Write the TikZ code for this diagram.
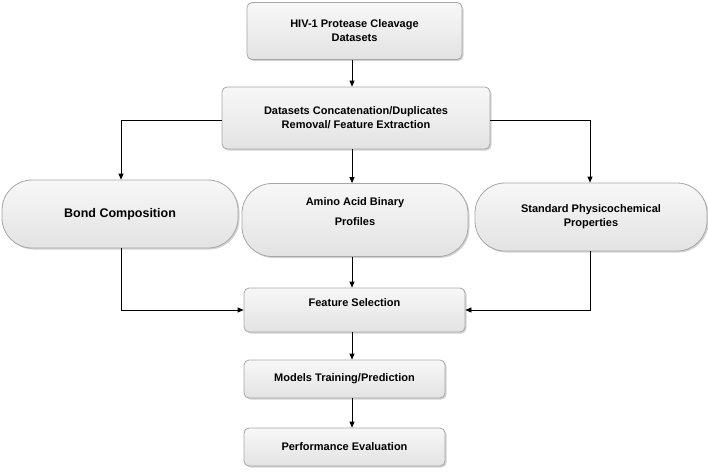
\documentclass[tikz,border=0pt]{standalone}
\usepackage{fontspec}
\setmainfont{Liberation Sans}
\usetikzlibrary{arrows.meta,shadows}
\begin{document}
\begin{tikzpicture}[x=1pt,y=-1pt,
  box/.style={draw=gray!70,line width=0.8pt,top color=gray!6,bottom color=gray!22,rounded corners=5pt,
    drop shadow={shadow xshift=1.5pt,shadow yshift=-1.5pt,opacity=0.35},
    font=\bfseries\fontsize{11}{14}\selectfont,align=center,inner sep=0pt},
  pill/.style={box,rounded corners=30pt},
  arr/.style={-{Triangle[length=6pt,width=5pt]},line width=0.8pt}]
\useasboundingbox (0,0) rectangle (708,474);
\node[box,minimum width=215,minimum height=57] (hiv) at (354.5,31) {HIV-1 Protease Cleavage\\Datasets};
\node[box,minimum width=268,minimum height=62] (cat) at (356,118) {Datasets Concatenation/Duplicates\\Removal/ Feature Extraction};
\node[pill,minimum width=236,minimum height=68] (bond) at (120,214) {\fontsize{12.5}{14}\selectfont Bond Composition};
\node[pill,minimum width=226,minimum height=73] (amino) at (355,220) {Amino Acid Binary\\[6pt]Profiles\\[2pt]};
\node[pill,minimum width=232,minimum height=68] (std) at (591,217) {Standard Physicochemical\\Properties};
\node[box,minimum width=221,minimum height=44] (fs) at (354.5,310) {Feature Selection\\[1pt]};
\node[box,minimum width=201,minimum height=38] (mt) at (344.5,379) {Models Training/Prediction};
\node[box,minimum width=201,minimum height=38] (pe) at (344.5,447) {Performance Evaluation};
\draw[arr] (hiv.south -| 352,0) -- (cat.north -| 352,0);
\draw[arr] (cat.west |- 0,120) -- (121,120) -- (bond.north -| 121,0);
\draw[arr] (cat.east |- 0,120) -- (590,120) -- (std.north -| 590,0);
\draw[arr] (cat.south -| 352,0) -- (amino.north -| 352,0);
\draw[arr] (bond.south -| 121,0) -- (121,310) -- (fs.west);
\draw[arr] (std.south -| 590,0) -- (590,310) -- (fs.east);
\draw[arr] (amino.south -| 352,0) -- (fs.north -| 352,0);
\draw[arr] (fs.south -| 352,0) -- (mt.north -| 352,0);
\draw[arr] (mt.south -| 352,0) -- (pe.north -| 352,0);
\end{tikzpicture}
\end{document}
